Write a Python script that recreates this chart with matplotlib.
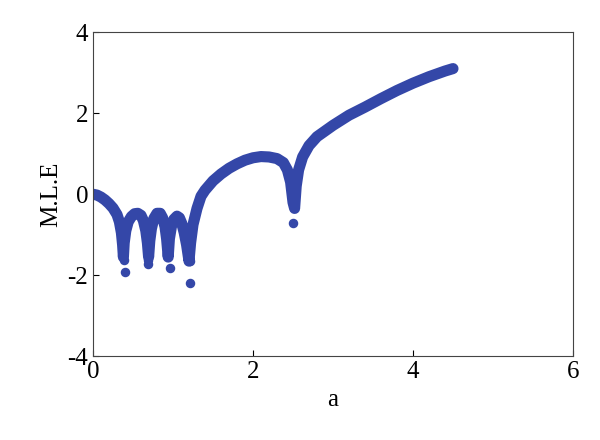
import matplotlib
matplotlib.use("Agg")
import matplotlib.pyplot as plt

# main branch of the M.L.E curve
a_vals = [0.0, 0.05, 0.1, 0.15, 0.2, 0.25, 0.3, 0.33, 0.355, 0.37, 0.38, 0.39,
          0.41, 0.44, 0.48, 0.52, 0.56, 0.6, 0.63, 0.66, 0.68, 0.695, 0.71,
          0.73, 0.76, 0.8, 0.84, 0.87, 0.9, 0.92, 0.94, 0.955, 0.98, 1.01,
          1.05, 1.08, 1.11, 1.14, 1.17, 1.2, 1.22, 1.25, 1.3, 1.35, 1.4, 1.5,
          1.6, 1.7, 1.8, 1.9, 2.0, 2.1, 2.2, 2.3, 2.38, 2.43, 2.47, 2.5, 2.52,
          2.54, 2.57, 2.62, 2.7, 2.8, 2.9, 3.0, 3.2, 3.4, 3.6, 3.8, 4.0, 4.2,
          4.4, 4.5]
mle_vals = [0.0, -0.02, -0.07, -0.14, -0.23, -0.34, -0.5, -0.68, -0.95, -1.25,
            -1.55, -1.2, -0.9, -0.68, -0.55, -0.48, -0.47, -0.52, -0.65, -0.9,
            -1.2, -1.55, -1.15, -0.85, -0.6, -0.47, -0.47, -0.58, -0.8, -1.1,
            -1.55, -1.1, -0.8, -0.62, -0.54, -0.58, -0.72, -0.95, -1.25, -1.65,
            -1.2, -0.75, -0.35, -0.05, 0.1, 0.33, 0.5, 0.64, 0.75, 0.84, 0.9,
            0.93, 0.92, 0.88, 0.78, 0.6, 0.3, -0.2, -0.35, 0.2, 0.6, 0.92, 1.2,
            1.42, 1.56, 1.7, 1.95, 2.15, 2.36, 2.56, 2.74, 2.9, 3.04, 3.1]

# isolated points below the dips
dot_a = [0.39, 0.4, 0.69, 0.69, 0.96, 1.21, 1.21, 2.5]
dot_mle = [-1.62, -1.93, -1.62, -1.72, -1.83, -1.65, -2.18, -0.7]

blue = "#3447a8"
plt.rcParams["font.family"] = ["Liberation Serif", "DejaVu Serif"]
plt.rcParams["axes.unicode_minus"] = False

fig = plt.figure(figsize=(6, 4.4), dpi=100)
ax = fig.add_axes([0.155, 0.19, 0.8, 0.737])
ax.plot(a_vals, mle_vals, "-", color=blue, lw=8, solid_capstyle="round",
        solid_joinstyle="round")
ax.scatter(dot_a, dot_mle, s=34, color=blue, zorder=3)

ax.set_xlim(0, 6)
ax.set_ylim(-4, 4)
ax.set_xticks([0, 2, 4, 6])
ax.set_yticks([-4, -2, 0, 2, 4])
ax.tick_params(direction="in", length=4, labelsize=18, width=0.8)
ax.set_xlabel("a", fontsize=18)
ax.set_ylabel("M.L.E", fontsize=18)
for s in ax.spines.values():
    s.set_color("#444444")

fig.savefig("out.png", dpi=100)
